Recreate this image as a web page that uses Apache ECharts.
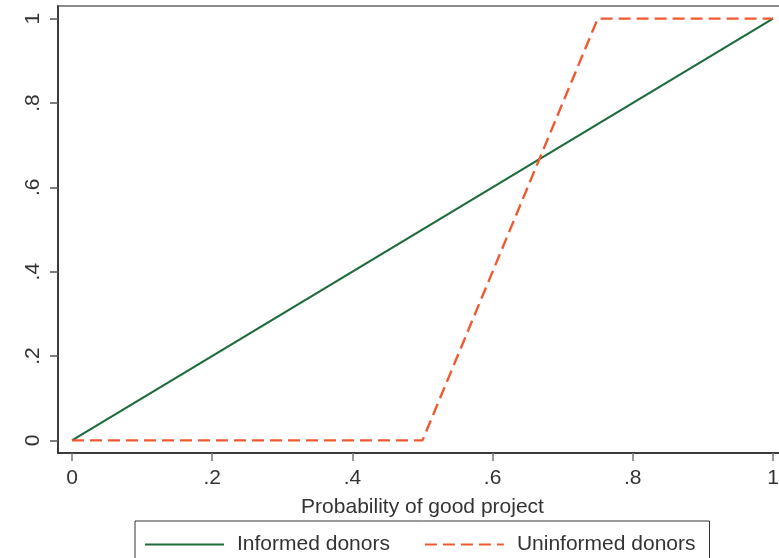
<!DOCTYPE html>
<html>
<head>
<meta charset="utf-8">
<script src="https://cdn.jsdelivr.net/npm/echarts@6/dist/echarts.min.js"></script>
<style>
html, body { margin: 0; padding: 0; background: #fff; }
#chart { width: 779px; height: 558px; }
</style>
</head>
<body>
<div id="chart"></div>
<script>
// probability of good project -> share funded
var informedX = [0, 1];
var informedY = [0, 1];
var uninformedX = [0, 0.5, 0.75, 1];
var uninformedY = [0, 0, 1, 1];
var tickValues = [0, 0.2, 0.4, 0.6, 0.8, 1];
var tickLabels = ['0', '.2', '.4', '.6', '.8', '1'];

var pairs = function(xs, ys) {
	return xs.map(function(x, i) { return [x, ys[i]]; });
};
var fmt = function(v) {
	var i = tickValues.indexOf(Math.round(v * 10) / 10);
	return i >= 0 ? tickLabels[i] : '';
};

var font = 'Liberation Sans, Arial, sans-serif';
var chart = echarts.init(document.getElementById('chart'));
chart.setOption({
	animation: false,
	grid: {
		left: 58, top: 6, right: -8, bottom: 105,
		outerBoundsMode: 'none',
		show: true, borderColor: '#8c8c8c', borderWidth: 2
	},
	legend: {
		left: 135, top: 521,
		padding: [13, 14, 30, 9],
		itemGap: 34,
		itemWidth: 79,
		itemHeight: 14,
		borderColor: '#333',
		borderWidth: 1,
		itemStyle: { opacity: 0 },
		textStyle: { fontFamily: font, fontSize: 21, color: '#333', padding: [0, 0, 0, 8] },
		data: ['Informed donors', 'Uninformed donors']
	},
	xAxis: {
		type: 'value', min: -0.02, max: 1.02,
		name: 'Probability of good project',
		nameLocation: 'middle', nameGap: 44,
		nameTextStyle: { fontFamily: font, fontSize: 21, color: '#333' },
		axisLine: { onZero: false, lineStyle: { color: '#222', width: 1.5 } },
		axisTick: { customValues: tickValues, length: 8, lineStyle: { color: '#777', width: 1.5 } },
		axisLabel: { customValues: tickValues, formatter: fmt, margin: 15,
			fontFamily: font, fontSize: 21, color: '#333' },
		splitLine: { show: false }
	},
	yAxis: {
		type: 'value', min: -0.03, max: 1.03,
		axisLine: { show: true, onZero: false, lineStyle: { color: '#222', width: 1.5 } },
		axisTick: { show: true, customValues: tickValues, length: 8, lineStyle: { color: '#555', width: 1.5 } },
		axisLabel: { customValues: tickValues, formatter: fmt, rotate: 90, margin: 14,
			fontFamily: font, fontSize: 21, color: '#333' },
		splitLine: { show: false }
	},
	series: [{
		name: 'Informed donors',
		type: 'line',
		symbol: 'none',
		data: pairs(informedX, informedY),
		itemStyle: { color: '#1e6b3c' },
		lineStyle: { color: '#1e6b3c', width: 2.2 }
	}, {
		name: 'Uninformed donors',
		type: 'line',
		symbol: 'none',
		data: pairs(uninformedX, uninformedY),
		itemStyle: { color: '#f05a30' },
		lineStyle: { color: '#f05a30', width: 2.4, type: [12, 6] }
	}]
});
</script>
</body>
</html>
